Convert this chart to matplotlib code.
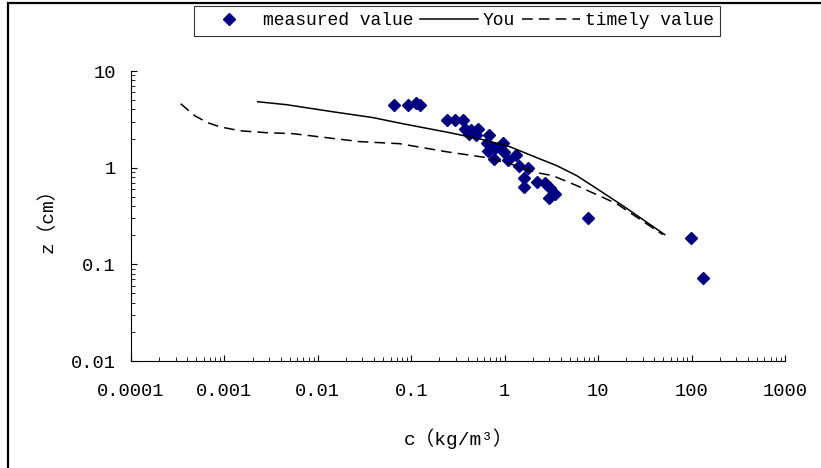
import matplotlib
matplotlib.use("Agg")
import matplotlib.pyplot as plt
from matplotlib.patches import Rectangle
from matplotlib.ticker import FixedLocator, FixedFormatter, LogLocator, NullFormatter

plt.rcParams['font.family'] = ['Liberation Mono', 'Noto Sans CJK SC']

# measured points
meas_c = [0.0648, 0.0915, 0.111, 0.123, 0.239, 0.292, 0.355, 0.373, 0.432, 0.514,
          0.412, 0.489, 0.674, 0.642, 0.952, 0.658, 0.782, 0.763, 0.975, 1.077,
          1.31, 1.41, 1.76, 1.60, 1.60, 2.20, 2.68, 3.03, 3.43, 2.96,
          7.74, 98.0, 132.0]
meas_z = [4.48, 4.48, 4.65, 4.48, 3.14, 3.14, 3.14, 2.53, 2.47, 2.53,
          2.25, 2.19, 2.19, 1.81, 1.81, 1.50, 1.61, 1.24, 1.46, 1.21,
          1.36, 1.05, 1.00, 0.788, 0.636, 0.717, 0.70, 0.621, 0.538, 0.490,
          0.304, 0.189, 0.0728]

# "You" curve
you_c = [0.00227, 0.00463, 0.0144, 0.0386, 0.0809, 0.258, 0.581, 1.13, 2.20,
         3.60, 5.90, 9.66, 18.3, 51.6]
you_z = [4.81, 4.48, 3.79, 3.30, 2.85, 2.30, 1.95, 1.65, 1.27,
         1.05, 0.827, 0.607, 0.405, 0.203]

# "timely value" curve
tim_c = [0.000340, 0.000480, 0.000661, 0.000889, 0.00146, 0.00283, 0.00537, 0.0280,
         0.0751, 0.239, 0.642, 1.13, 2.20, 3.26, 5.90, 15.8, 49.2]
tim_z = [4.59, 3.45, 2.92, 2.65, 2.41, 2.30, 2.25, 1.86,
         1.77, 1.46, 1.27, 1.10, 0.888, 0.827, 0.652, 0.424, 0.203]

x_ticks = [0.0001, 0.001, 0.01, 0.1, 1, 10, 100, 1000]
x_labels = ['0.0001', '0.001', '0.01', '0.1', '1', '10', '100', '1000']
y_ticks = [0.01, 0.1, 1, 10]
y_labels = ['0.01', '0.1', '1', '10']

fig = plt.figure(figsize=(8.21, 4.68), dpi=100)
ax = fig.add_axes([131/821, 1 - 361/468, (785 - 131)/821, (361 - 71)/468])

ax.plot(meas_c, meas_z, linestyle='none', marker='D', markersize=6.5,
        color='#000080', label='measured value')
ax.plot(you_c, you_z, color='black', linewidth=1.1, label='You')
ax.plot(tim_c, tim_z, color='black', linewidth=1.1, linestyle=(0, (7, 4)),
        label='timely value')

ax.set_xscale('log')
ax.set_yscale('log')
ax.set_xlim(0.0001, 1000)
ax.set_ylim(0.01, 10)

ax.xaxis.set_major_locator(FixedLocator(x_ticks))
ax.xaxis.set_major_formatter(FixedFormatter(x_labels))
ax.yaxis.set_major_locator(FixedLocator(y_ticks))
ax.yaxis.set_major_formatter(FixedFormatter(y_labels))
ax.xaxis.set_minor_locator(LogLocator(base=10, subs=range(2, 10), numticks=20))
ax.yaxis.set_minor_locator(LogLocator(base=10, subs=range(2, 10), numticks=20))
ax.xaxis.set_minor_formatter(NullFormatter())
ax.yaxis.set_minor_formatter(NullFormatter())

ax.tick_params(which='both', direction='in', labelsize=13.5)
ax.tick_params(axis='x', which='major', pad=16)
ax.tick_params(axis='y', which='major', pad=11)
ax.tick_params(which='major', length=4)
ax.tick_params(which='minor', length=3)

ax.spines['top'].set_visible(False)
ax.spines['right'].set_visible(False)

ax.set_xlabel('c（kg/m³）', fontsize=14, labelpad=20)
ax.set_ylabel('z（cm）', fontsize=14, labelpad=10)

leg = fig.legend(loc='upper center', bbox_to_anchor=(457/821, 1 - 6/468), ncol=3,
                 fontsize=13, frameon=True, fancybox=False, edgecolor='black',
                 handlelength=3.2, columnspacing=0.4, handletextpad=0.25,
                 borderpad=0.35, borderaxespad=0)
leg.get_frame().set_linewidth(0.8)

fig.patches.append(Rectangle((8/821, -0.05), 1.0, 1.05 - 3/468, transform=fig.transFigure,
                             fill=False, edgecolor='black', linewidth=1.6))

fig.savefig('out.png', dpi=100)
